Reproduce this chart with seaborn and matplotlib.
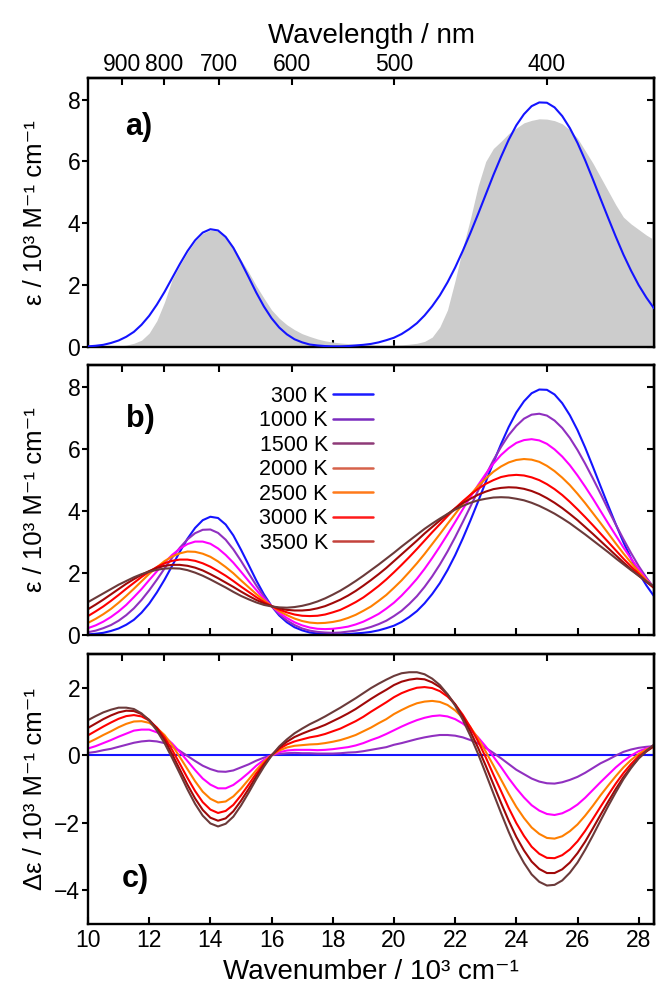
import numpy as np
import pandas as pd
import matplotlib
matplotlib.use("Agg")
import matplotlib.pyplot as plt
from matplotlib.lines import Line2D
from matplotlib.ticker import NullLocator
import seaborn as sns

# ---------------------------------------------------------------- data
# wavenumber grid / 10^3 cm^-1
wavenumber = [10.0, 10.25, 10.5, 10.75, 11.0, 11.25, 11.5, 11.75, 12.0, 12.25,
              12.5, 12.75, 13.0, 13.25, 13.5, 13.75, 14.0, 14.25, 14.5, 14.75,
              15.0, 15.25, 15.5, 15.75, 16.0, 16.25, 16.5, 16.75, 17.0, 17.25,
              17.5, 17.75, 18.0, 18.25, 18.5, 18.75, 19.0, 19.25, 19.5, 19.75,
              20.0, 20.25, 20.5, 20.75, 21.0, 21.25, 21.5, 21.75, 22.0, 22.25,
              22.5, 22.75, 23.0, 23.25, 23.5, 23.75, 24.0, 24.25, 24.5, 24.75,
              25.0, 25.25, 25.5, 25.75, 26.0, 26.25, 26.5, 26.75, 27.0, 27.25,
              27.5, 27.75, 28.0, 28.25, 28.5]

# measured absorption spectrum (grey area), 10^3 M^-1 cm^-1
eps_measured = [0.00, 0.00, 0.00, 0.01, 0.03, 0.06, 0.12, 0.22, 0.45, 0.85,
                1.45, 2.18, 2.64, 3.06, 3.42, 3.67, 3.78, 3.75, 3.56, 3.24,
                2.82, 2.42, 1.98, 1.58, 1.20, 0.93, 0.72, 0.56, 0.43, 0.34,
                0.26, 0.20, 0.16, 0.13, 0.11, 0.09, 0.08, 0.07, 0.06, 0.06,
                0.06, 0.07, 0.09, 0.12, 0.18, 0.32, 0.65, 1.20, 2.15, 3.20,
                4.15, 5.20, 6.00, 6.42, 6.65, 6.90, 7.08, 7.25, 7.33, 7.38,
                7.37, 7.32, 7.22, 7.02, 6.75, 6.35, 5.95, 5.50, 5.05, 4.60,
                4.20, 3.98, 3.80, 3.62, 3.47]

# simulated spectra at each temperature, 10^3 M^-1 cm^-1
eps_300 = [0.02, 0.04, 0.07, 0.13, 0.21, 0.33, 0.49, 0.72, 1.01, 1.37,
           1.78, 2.23, 2.68, 3.10, 3.45, 3.70, 3.81, 3.77, 3.56, 3.21,
           2.75, 2.26, 1.76, 1.31, 0.93, 0.63, 0.41, 0.25, 0.15, 0.08,
           0.05, 0.03, 0.02, 0.02, 0.03, 0.05, 0.07, 0.10, 0.15, 0.22,
           0.30, 0.42, 0.58, 0.77, 1.02, 1.32, 1.67, 2.09, 2.57, 3.11,
           3.69, 4.30, 4.93, 5.56, 6.15, 6.70, 7.17, 7.53, 7.79, 7.91,
           7.90, 7.75, 7.47, 7.08, 6.60, 6.04, 5.43, 4.80, 4.18, 3.57,
           2.99, 2.47, 2.00, 1.60, 1.25]
eps_1000 = [0.09, 0.14, 0.22, 0.32, 0.46, 0.64, 0.86, 1.13, 1.44, 1.78,
            2.14, 2.49, 2.81, 3.08, 3.28, 3.39, 3.40, 3.29, 3.07, 2.76,
            2.39, 1.99, 1.60, 1.24, 0.93, 0.67, 0.47, 0.32, 0.21, 0.14,
            0.10, 0.08, 0.07, 0.08, 0.11, 0.14, 0.19, 0.26, 0.35, 0.46,
            0.61, 0.78, 1.00, 1.25, 1.55, 1.89, 2.27, 2.69, 3.15, 3.64,
            4.14, 4.65, 5.15, 5.63, 6.06, 6.44, 6.74, 6.97, 7.10, 7.13,
            7.07, 6.91, 6.67, 6.35, 5.96, 5.52, 5.05, 4.56, 4.05, 3.56,
            3.09, 2.64, 2.22, 1.85, 1.52]
eps_1500 = [0.22, 0.31, 0.43, 0.58, 0.76, 0.97, 1.22, 1.48, 1.77, 2.05,
            2.33, 2.58, 2.78, 2.93, 3.01, 3.01, 2.94, 2.79, 2.58, 2.33,
            2.04, 1.74, 1.45, 1.17, 0.93, 0.72, 0.55, 0.41, 0.31, 0.24,
            0.20, 0.19, 0.20, 0.23, 0.27, 0.34, 0.43, 0.55, 0.68, 0.85,
            1.04, 1.27, 1.53, 1.81, 2.13, 2.48, 2.85, 3.24, 3.64, 4.05,
            4.45, 4.83, 5.19, 5.52, 5.80, 6.02, 6.19, 6.28, 6.31, 6.27,
            6.16, 5.98, 5.75, 5.47, 5.14, 4.78, 4.40, 4.00, 3.60, 3.21,
            2.82, 2.46, 2.12, 1.80, 1.52]
eps_2000 = [0.39, 0.52, 0.67, 0.84, 1.04, 1.26, 1.49, 1.73, 1.97, 2.18,
            2.38, 2.53, 2.63, 2.69, 2.68, 2.62, 2.52, 2.37, 2.19, 1.99,
            1.76, 1.54, 1.32, 1.12, 0.93, 0.77, 0.64, 0.53, 0.45, 0.40,
            0.38, 0.39, 0.42, 0.47, 0.55, 0.65, 0.78, 0.92, 1.10, 1.29,
            1.52, 1.76, 2.03, 2.31, 2.61, 2.93, 3.25, 3.58, 3.90, 4.22,
            4.52, 4.80, 5.04, 5.26, 5.43, 5.56, 5.64, 5.67, 5.65, 5.58,
            5.45, 5.28, 5.07, 4.83, 4.55, 4.25, 3.93, 3.61, 3.28, 2.95,
            2.63, 2.33, 2.04, 1.77, 1.52]
eps_2500 = [0.61, 0.76, 0.92, 1.10, 1.29, 1.49, 1.68, 1.87, 2.04, 2.19,
            2.31, 2.39, 2.43, 2.43, 2.39, 2.31, 2.20, 2.06, 1.91, 1.74,
            1.56, 1.39, 1.22, 1.06, 0.93, 0.82, 0.73, 0.66, 0.62, 0.61,
            0.62, 0.66, 0.73, 0.81, 0.93, 1.06, 1.21, 1.39, 1.58, 1.79,
            2.02, 2.26, 2.51, 2.77, 3.04, 3.31, 3.57, 3.83, 4.08, 4.31,
            4.52, 4.71, 4.87, 4.99, 5.09, 5.14, 5.16, 5.14, 5.08, 4.99,
            4.86, 4.70, 4.51, 4.29, 4.05, 3.80, 3.54, 3.27, 3.00, 2.73,
            2.46, 2.21, 1.97, 1.73, 1.52]
eps_3000 = [0.83, 0.98, 1.14, 1.31, 1.48, 1.65, 1.80, 1.94, 2.06, 2.16,
            2.23, 2.26, 2.26, 2.23, 2.17, 2.08, 1.96, 1.83, 1.69, 1.55,
            1.40, 1.26, 1.13, 1.02, 0.93, 0.86, 0.81, 0.79, 0.79, 0.81,
            0.86, 0.93, 1.03, 1.14, 1.27, 1.42, 1.59, 1.77, 1.96, 2.16,
            2.38, 2.60, 2.82, 3.04, 3.27, 3.48, 3.69, 3.89, 4.08, 4.25,
            4.39, 4.52, 4.62, 4.70, 4.74, 4.76, 4.75, 4.71, 4.64, 4.54,
            4.41, 4.26, 4.09, 3.90, 3.70, 3.48, 3.26, 3.03, 2.80, 2.57,
            2.34, 2.12, 1.91, 1.71, 1.52]
eps_3500 = [1.06, 1.20, 1.34, 1.48, 1.62, 1.74, 1.86, 1.96, 2.04, 2.10,
            2.14, 2.15, 2.14, 2.09, 2.01, 1.91, 1.79, 1.66, 1.53, 1.39,
            1.26, 1.15, 1.05, 0.97, 0.92, 0.89, 0.88, 0.90, 0.94, 1.00,
            1.08, 1.18, 1.30, 1.43, 1.58, 1.74, 1.91, 2.09, 2.27, 2.46,
            2.65, 2.85, 3.04, 3.23, 3.42, 3.59, 3.75, 3.90, 4.04, 4.16,
            4.26, 4.34, 4.39, 4.43, 4.44, 4.43, 4.39, 4.34, 4.26, 4.16,
            4.04, 3.91, 3.76, 3.60, 3.42, 3.24, 3.05, 2.86, 2.67, 2.47,
            2.28, 2.09, 1.91, 1.73, 1.57]

temperatures = ["300 K", "1000 K", "1500 K", "2000 K", "2500 K", "3000 K", "3500 K"]
line_colors = ["#1414ff", "#9030c0", "#ff00ff", "#ff7f00", "#ff0000", "#a00808", "#6b3a3a"]
legend_colors = ["#1a1aff", "#7b2cbf", "#8e3a78", "#d6624a", "#ff7a1a", "#ff1a1a", "#c4433c"]

wavelength_ticks = [900, 800, 700, 600, 500, 400]
xticks = [10, 12, 14, 16, 18, 20, 22, 24, 26, 28]
yticks_eps = [0, 2, 4, 6, 8]
yticks_delta = [-4, -2, 0, 2]

# ---------------------------------------------------------------- tables
spectra = [eps_300, eps_1000, eps_1500, eps_2000, eps_2500, eps_3000, eps_3500]
eps_arr = np.array(spectra)
delta_arr = eps_arr - np.array(eps_300)   # difference to the 300 K spectrum
n = len(wavenumber)
df = pd.DataFrame({
    "wavenumber": np.tile(wavenumber, len(temperatures)),
    "eps": eps_arr.ravel(),
    "delta": delta_arr.ravel(),
    "T": np.repeat(temperatures, n),
})
palette = dict(zip(temperatures, line_colors))

# ---------------------------------------------------------------- style
sns.set_theme(style="ticks")
plt.rcParams.update({
    "font.family": ["Liberation Sans", "DejaVu Sans"],
    "text.color": "black",
    "axes.labelcolor": "black",
    "axes.edgecolor": "black",
    "axes.linewidth": 1.7,
    "xtick.color": "black",
    "ytick.color": "black",
})

TICK_FS = 16.5
LW = 1.5

fig = plt.figure(figsize=(6.57, 9.88), dpi=100)
left, width = 88 / 657, 566 / 657
ax_a = fig.add_axes([left, (988 - 347) / 988, width, 269 / 988])
ax_b = fig.add_axes([left, (988 - 635) / 988, width, 270 / 988])
ax_c = fig.add_axes([left, (988 - 924) / 988, width, 270 / 988])


def to_nm(k):
    k = np.asarray(k, dtype=float)
    with np.errstate(divide="ignore", invalid="ignore"):
        return np.where(k != 0, 1e4 / np.where(k != 0, k, 1.0), np.inf)


def style_axes(ax, yticks, ylim, show_xlabels, top_labels):
    ax.set_xlim(10, 28.5)
    ax.set_ylim(*ylim)
    ax.set_xticks(xticks)
    ax.set_yticks(yticks)
    ax.xaxis.set_minor_locator(NullLocator())
    ax.yaxis.set_minor_locator(NullLocator())
    ax.tick_params(axis="x", which="major", direction="in", bottom=True, top=False,
                   length=5, width=1.5, labelsize=TICK_FS, labelbottom=show_xlabels)
    ax.tick_params(axis="y", which="major", direction="out", left=True, right=False,
                   length=4, width=1.5, labelsize=TICK_FS, pad=1.5)
    ax.grid(False)
    for s in ax.spines.values():
        s.set_visible(True)
        s.set_linewidth(1.7)
        s.set_color("black")
    # right-hand ticks pointing inwards
    ry = ax.secondary_yaxis("right")
    ry.set_yticks(yticks)
    ry.yaxis.set_minor_locator(NullLocator())
    ry.tick_params(axis="y", direction="in", length=5, width=1.5, labelright=False)
    ry.spines["right"].set_linewidth(1.7)
    # wavelength scale on top
    top = ax.secondary_xaxis("top", functions=(to_nm, to_nm))
    top.set_xticks(wavelength_ticks)
    top.xaxis.set_minor_locator(NullLocator())
    top.tick_params(axis="x", direction="in", length=5, width=1.5,
                    labelsize=TICK_FS, labeltop=top_labels, pad=1.5)
    top.spines["top"].set_linewidth(1.7)
    return top


# ---------------------------------------------------------------- panel a
ax_a.fill_between(wavenumber, eps_measured, 0, color="#cccccc", lw=0, zorder=1)
sns.lineplot(x=wavenumber, y=eps_300, color=line_colors[0], lw=LW, ax=ax_a,
             estimator=None, sort=False, zorder=3)
top_a = style_axes(ax_a, yticks_eps, (0, 8.7), False, True)
top_a.set_xlabel("Wavelength / nm", fontsize=20, labelpad=7)
ax_a.set_xlabel("")

# ---------------------------------------------------------------- panel b
sns.lineplot(data=df, x="wavenumber", y="eps", hue="T", hue_order=temperatures,
             palette=palette, lw=LW, legend=False, estimator=None, sort=False, ax=ax_b)
style_axes(ax_b, yticks_eps, (0, 8.7), False, False)
ax_b.set_xlabel("")
handles = [Line2D([], [], color=c, lw=1.8) for c in legend_colors]
ax_b.legend(handles, temperatures, loc="upper right",
            bbox_to_anchor=((373 - 88) / 566, (635 - 386) / 270),
            frameon=False, markerfirst=False, handlelength=1.85,
            handletextpad=0.25, labelspacing=0.16, borderpad=0.0,
            borderaxespad=0.0, fontsize=15.5)

# ---------------------------------------------------------------- panel c
sns.lineplot(data=df, x="wavenumber", y="delta", hue="T", hue_order=temperatures,
             palette=palette, lw=LW, legend=False, estimator=None, sort=False, ax=ax_c)
style_axes(ax_c, yticks_delta, (-5, 3), True, False)
ax_c.set_xlabel("Wavenumber / 10³ cm⁻¹", fontsize=20, labelpad=5)

# ---------------------------------------------------------------- labels
eps_label = "ε / 10³ M⁻¹ cm⁻¹"
ax_a.set_ylabel(eps_label, fontsize=18.5)
ax_b.set_ylabel(eps_label, fontsize=18.5)
ax_c.set_ylabel("Δε / 10³ M⁻¹ cm⁻¹", fontsize=18.5)
for ax in (ax_a, ax_b, ax_c):
    ax.yaxis.set_label_coords(-0.072, 0.5)

for ax, letter, (tx, ty) in ((ax_a, "a)", (0.065, 0.816)),
                             (ax_b, "b)", (0.068, 0.80)),
                             (ax_c, "c)", (0.060, 0.167))):
    ax.text(tx, ty, letter, transform=ax.transAxes, fontsize=22,
            fontweight="bold", va="center", ha="left")

fig.savefig("out.png", dpi=100)
